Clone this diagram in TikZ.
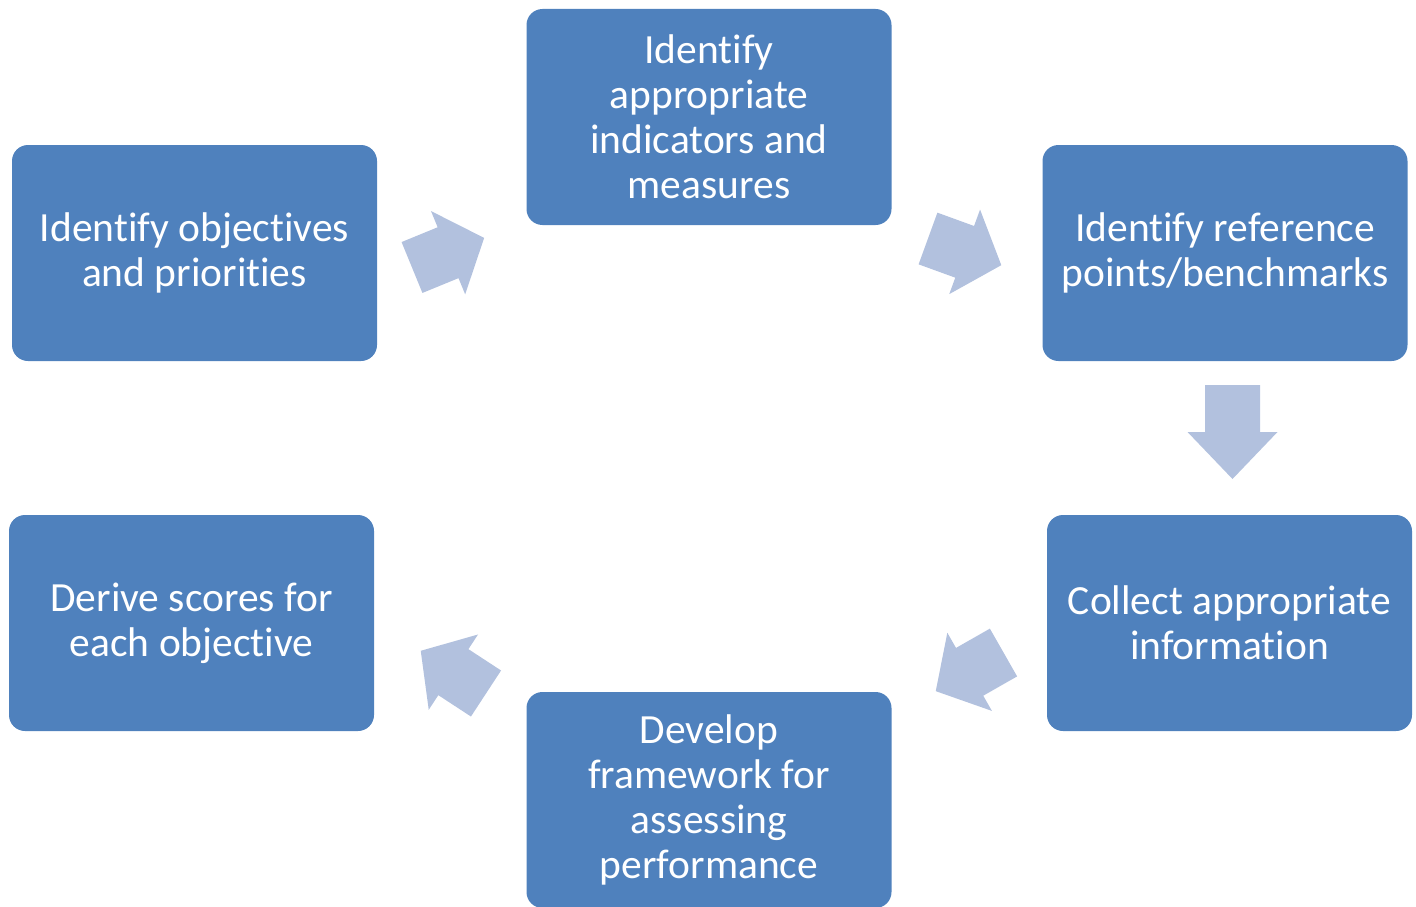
\documentclass[tikz,border=0pt]{standalone}
\usepackage{fontspec}
\setmainfont{Carlito}[Ligatures=NoCommon]
\definecolor{boxblue}{RGB}{79,129,189}
\definecolor{arrowblue}{RGB}{178,193,222}
\tikzset{
  stepbox/.style={fill=boxblue, rounded corners=16pt, minimum width=365pt, minimum height=216pt,
    text=white, align=center, inner sep=0pt, font=\fontsize{41.5}{45}\selectfont},
  arrowfill/.style={fill=arrowblue}
}
\newcommand{\blockarr}[4]{%
  \fill[arrowfill, shift={(#1)}, rotate=#2]
    (0,-27.5) -- ({#3-#4},-27.5) -- ({#3-#4},-45) -- (#3,0) -- ({#3-#4},45) -- ({#3-#4},27.5) -- (0,27.5) -- cycle;}
\begin{document}
\begin{tikzpicture}[x=1pt,y=-1pt]
\useasboundingbox (0,0) rectangle (1416,907);
\node[stepbox] (b1) at (194.5,253) {Identify objectives\\and priorities};
\node[stepbox] (b2) at (709,117) {Identify\\appropriate\\indicators and\\measures};
\node[stepbox] (b3) at (1225,253) {Identify reference\\points/benchmarks};
\node[stepbox] (b4) at (1229.5,623) {Collect appropriate\\information};
\node[stepbox] (b5) at (709,800) {Develop\\framework for\\assessing\\performance};
\node[stepbox] (b6) at (191.5,623) {Derive scores for\\each objective};
\blockarr{412,267.5}{22.3}{78}{39}
\blockarr{928,238.5}{-20}{78}{39}
\blockarr{1232.5,385}{-90}{94}{47}
\blockarr{1003.5,652.5}{209.7}{78}{39}
\blockarr{486,693.5}{146.8}{78}{39}
\end{tikzpicture}
\end{document}
